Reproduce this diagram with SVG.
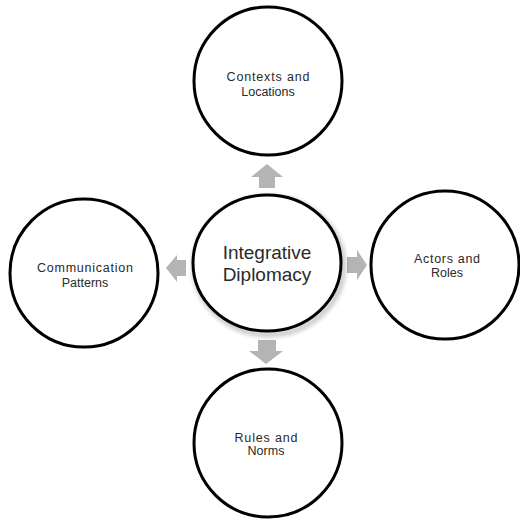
<svg xmlns="http://www.w3.org/2000/svg" width="520" height="520" viewBox="0 0 520 520">
<defs>
<style>
.node circle, .node ellipse { fill: #ffffff; stroke: #000000; stroke-width: 3; }
.lbl { font-family: "Liberation Sans", Arial, sans-serif; fill: #2a2a2a; text-anchor: middle; }
.small { font-size: 12.5px; }
.big { font-size: 19px; }
.arrow { fill: #b4b4b4; stroke: none; }
</style>
<filter id="sh" x="-20%" y="-20%" width="140%" height="140%">
<feGaussianBlur stdDeviation="2.5"/>
</filter>
</defs>
<rect width="520" height="520" fill="#ffffff"/>
<g id="connectors">
<path class="arrow" d="M267,164 L283,177 L275,177 L275,188 L259,188 L259,177 L251,177 Z"/>
<path class="arrow" d="M258,340 L276,340 L276,351 L283,351 L266,364 L249,351 L258,351 Z"/>
<path class="arrow" d="M166,268 L177,255 L177,260 L186,260 L186,276 L177,276 L177,282 Z"/>
<path class="arrow" d="M347,257 L357,257 L357,250 L367,265 L357,280 L357,273 L347,273 Z"/>
</g>
<g id="node-center" class="node">
<ellipse cx="269" cy="266" rx="74" ry="68" fill="#cccccc" stroke="none" filter="url(#sh)" opacity="0.6"/>
<ellipse cx="267" cy="263" rx="74" ry="68"/>
<text class="lbl big" x="267" y="259">Integrative</text>
<text class="lbl big" x="267" y="281">Diplomacy</text>
</g>
<g id="node-top" class="node">
<circle cx="268" cy="81" r="74"/>
<text class="lbl small" x="268" y="81" textLength="83">Contexts and</text>
<text class="lbl small" x="268" y="96">Locations</text>
</g>
<g id="node-left" class="node">
<circle cx="84" cy="273" r="74"/>
<text class="lbl small" x="85" y="272" textLength="96">Communication</text>
<text class="lbl small" x="85" y="287">Patterns</text>
</g>
<g id="node-right" class="node">
<circle cx="445" cy="265" r="74"/>
<text class="lbl small" x="447" y="263" textLength="66">Actors and</text>
<text class="lbl small" x="447" y="277">Roles</text>
</g>
<g id="node-bottom" class="node">
<circle cx="268" cy="443" r="74"/>
<text class="lbl small" x="266" y="442" textLength="63">Rules and</text>
<text class="lbl small" x="266" y="455">Norms</text>
</g>
</svg>
